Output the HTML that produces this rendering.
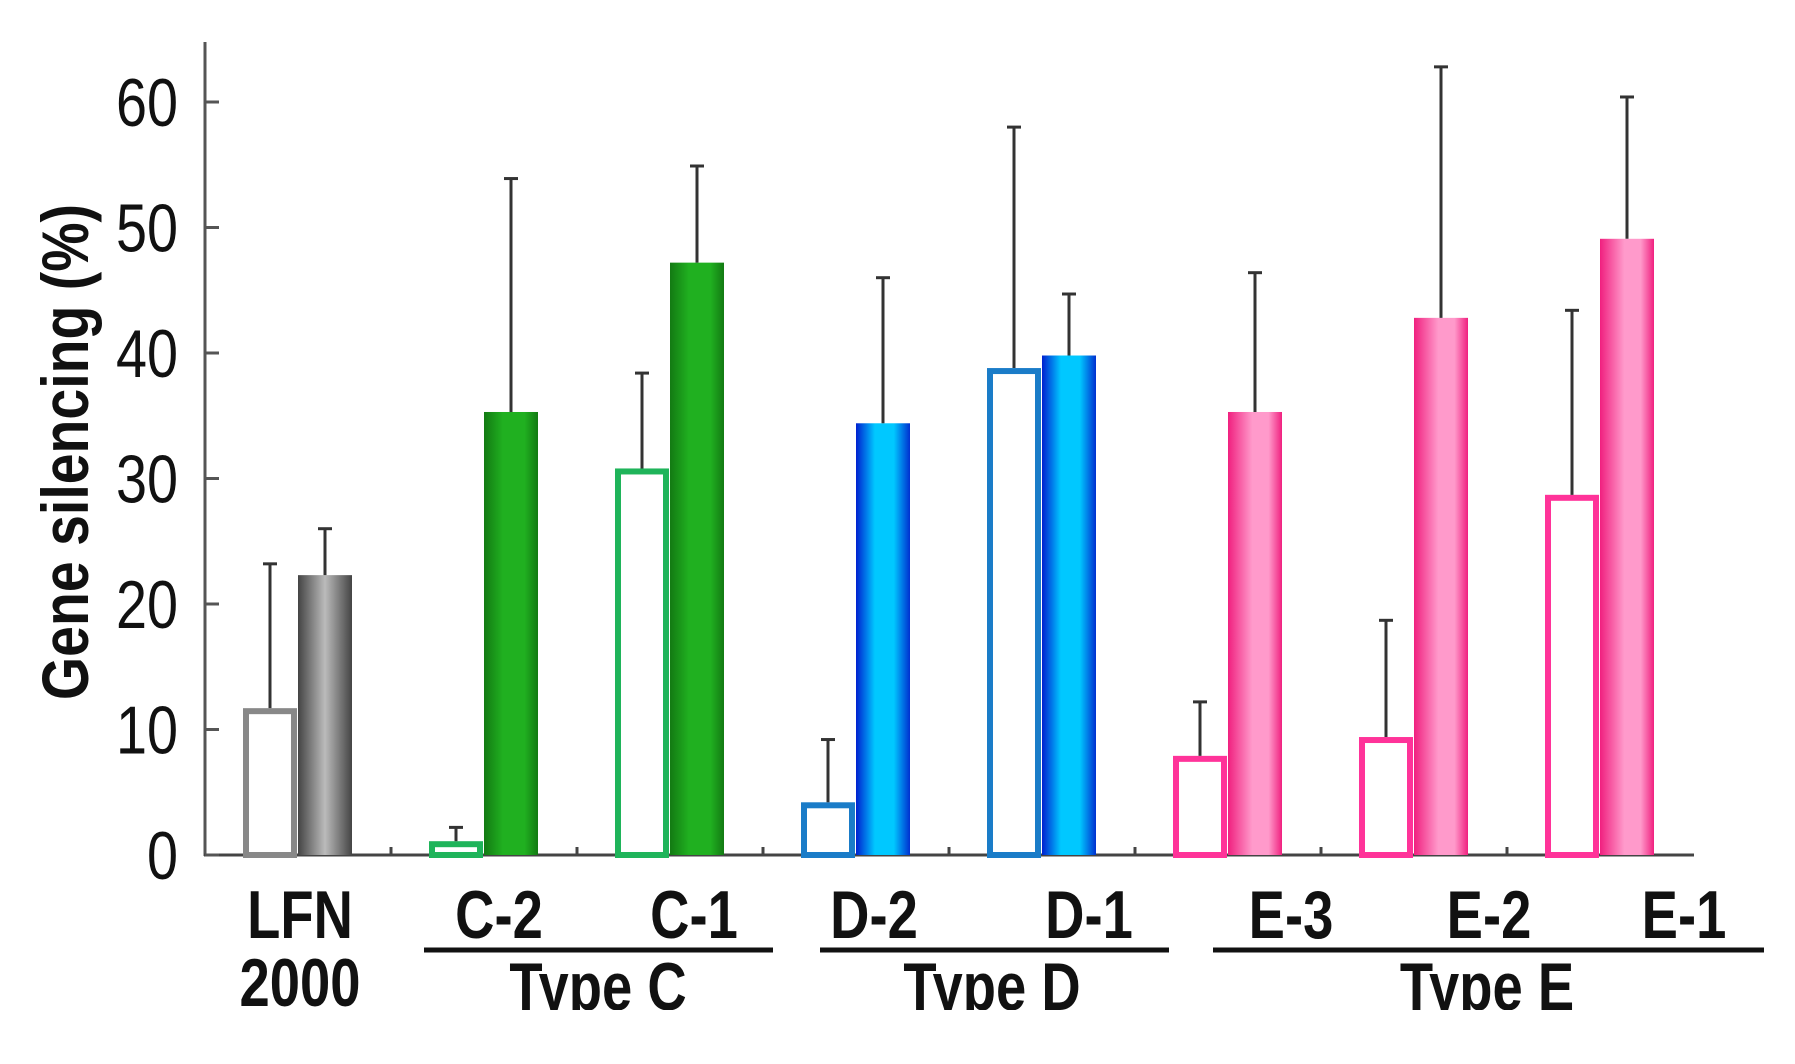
<!DOCTYPE html>
<html><head><meta charset="utf-8"><style>
html,body{margin:0;padding:0;background:#fff;}
svg{display:block;}
text{font-family:"Liberation Sans",sans-serif;}
</style></head><body>
<svg id="chart" width="1795" height="1064" viewBox="0 0 1795 1064" xmlns="http://www.w3.org/2000/svg">
<defs>
<linearGradient id="gGray" x1="0" x2="1"><stop offset="0" stop-color="#444"/><stop offset="0.5" stop-color="#bbb"/><stop offset="1" stop-color="#444"/></linearGradient>
<linearGradient id="gGreen" x1="0" x2="1"><stop offset="0" stop-color="#137a13"/><stop offset="0.35" stop-color="#20b020"/><stop offset="0.75" stop-color="#20b020"/><stop offset="1" stop-color="#137a13"/></linearGradient>
<linearGradient id="gBlue" x1="0" x2="1"><stop offset="0" stop-color="#0020d0"/><stop offset="0.35" stop-color="#00c8ff"/><stop offset="0.7" stop-color="#00c8ff"/><stop offset="1" stop-color="#0030d0"/></linearGradient>
<linearGradient id="gPink" x1="0" x2="1"><stop offset="0" stop-color="#f0207f"/><stop offset="0.45" stop-color="#ff9acb"/><stop offset="0.75" stop-color="#ff9acb"/><stop offset="1" stop-color="#f0207f"/></linearGradient>
<clipPath id="clipBottom"><rect x="0" y="0" width="1795" height="1010"/></clipPath>
</defs>
<g id="plot" clip-path="url(#clipBottom)"></g>
</svg>
<script>
const categories = ["LFN 2000","C-2","C-1","D-2","D-1","E-3","E-2","E-1"];
const openValues = [11.7, 1.1, 30.8, 4.2, 38.8, 7.9, 9.4, 28.7];
const openErrTop = [23.2, 2.2, 38.4, 9.2, 58.0, 12.2, 18.7, 43.4];
const filledValues = [22.3, 35.3, 47.2, 34.4, 39.8, 35.3, 42.8, 49.1];
const filledErrTop = [26.0, 53.9, 54.9, 46.0, 44.7, 46.4, 62.8, 60.4];
const yTicks = [0, 10, 20, 30, 40, 50, 60];
const groupNames = ["Type C","Type D","Type E"];
const seriesColor = ["#888888","#1fb45a","#1fb45a","#1a7cc8","#1a7cc8","#ff3399","#ff3399","#ff3399"];
const seriesFill = ["url(#gGray)","url(#gGreen)","url(#gGreen)","url(#gBlue)","url(#gBlue)","url(#gPink)","url(#gPink)","url(#gPink)"];

const NS = "http://www.w3.org/2000/svg";
const g = document.getElementById('plot');
const X0 = 205, XEND = 1694, Y0 = 855, YTOP = 42;
const PXU = (855 - 102) / 60;
const y = v => Y0 - v * PXU;
const cx = i => 298 + i * 186;
const BW = 54;
function el(tag, attrs, parent) {
  const e = document.createElementNS(NS, tag);
  for (const k in attrs) e.setAttribute(k, attrs[k]);
  (parent || g).appendChild(e);
  return e;
}
function txt(s, x, yy, size, weight, anchor, sx) {
  const t = el('text', {x: 0, y: 0, 'font-size': size, 'font-weight': weight, 'text-anchor': anchor, fill: '#111',
    transform: `translate(${x},${yy}) scale(${sx},1)`});
  t.textContent = s;
  return t;
}

const ya = el('line', {x1: X0, y1: YTOP, x2: X0, y2: Y0 + 1, stroke: '#555', 'stroke-width': 3});


const xa = el('line', {x1: X0 - 1, y1: Y0, x2: XEND, y2: Y0, stroke: '#444', 'stroke-width': 3});



yTicks.forEach(v => {
  const t = el('line', {x1: X0, y1: y(v), x2: X0 + 14, y2: y(v), stroke: '#555', 'stroke-width': 3});
  
  
  const l = txt(String(v), 178, y(v) + 24, 68, 'normal', 'end', 0.82);
  
  
});

for (let i = 0; i < categories.length - 1; i++) {
  const t = el('line', {x1: cx(i) + 93, y1: Y0, x2: cx(i) + 93, y2: Y0 - 8, stroke: '#444', 'stroke-width': 3});
  
  
}

const yl = el('text', {x: 0, y: 0, 'font-size': 66, 'font-weight': 'bold', 'text-anchor': 'middle', fill: '#111',
  transform: 'translate(88,452) rotate(-90) scale(0.84,1)'});
yl.textContent = 'Gene silencing (%)';



function errBar(xc, v, top) {
  const e = el('g', {});
  
  
  el('line', {x1: xc, y1: y(v), x2: xc, y2: y(top), stroke: '#333', 'stroke-width': 3}, e);
  el('line', {x1: xc - 7, y1: y(top), x2: xc + 7, y2: y(top), stroke: '#333', 'stroke-width': 3}, e);
}

categories.forEach((c, i) => {
  const c0 = cx(i);
  const ox = c0 - BW - 1;
  const ob = el('rect', {x: ox + 3, y: y(openValues[i]) + 3, width: BW - 6, height: Math.max(0, openValues[i] * PXU - 3),
    fill: '#fff', stroke: seriesColor[i], 'stroke-width': 6});
  
  
  errBar(ox + BW / 2, openValues[i], openErrTop[i]);
  const fb = el('rect', {x: c0, y: y(filledValues[i]), width: BW, height: filledValues[i] * PXU, fill: seriesFill[i]});
  
  
  errBar(c0 + BW / 2, filledValues[i], filledErrTop[i]);
});

const labelX = [300, 499, 694, 874, 1089, 1291, 1489, 1684];
categories.forEach((c, i) => {
  if (i === 0) {
    const a = txt('LFN', labelX[i], 938, 68, 'bold', 'middle', 0.8);
    
    
    const b = txt('2000', labelX[i], 1006, 68, 'bold', 'middle', 0.8);
    
    
  } else {
    const a = txt(c, labelX[i], 938, 68, 'bold', 'middle', 0.8);
    
    
  }
});

const groupSpan = [[424, 773, 598], [820, 1169, 992], [1213, 1764, 1487]];
groupNames.forEach((n, k) => {
  const s = groupSpan[k];
  const l = el('line', {x1: s[0], y1: 950, x2: s[1], y2: 950, stroke: '#111', 'stroke-width': 5});
  
  
  const t = txt(n, s[2], 1010, 68, 'bold', 'middle', 0.8);
  
  
});
</script>
</body></html>
